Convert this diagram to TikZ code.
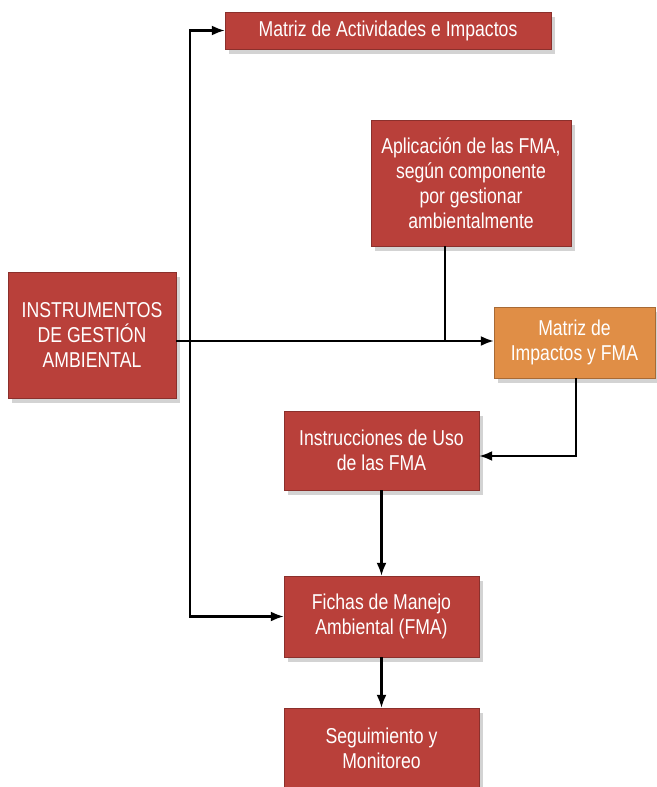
\documentclass[tikz,border=0pt]{standalone}
\usepackage{fontspec}
\setmainfont{Liberation Sans}[FakeStretch=0.82]
\usetikzlibrary{positioning,shadows,arrows.meta}
\definecolor{boxred}{RGB}{185,64,58}
\definecolor{boxorange}{RGB}{224,142,70}
\tikzset{
  block/.style={draw=boxred!75!black, fill=boxred, text=white, align=center,
    inner sep=0pt, font=\fontsize{21.5}{25}\selectfont,
    drop shadow={shadow xshift=4pt, shadow yshift=-5pt, opacity=0.35}},
  flow/.style={-{Latex[length=13pt,width=10pt]}, line width=2.2pt},
  link/.style={line width=2.2pt}
}
\begin{document}
\begin{tikzpicture}[x=1pt,y=-1pt]
		\useasboundingbox (0,0) rectangle (656,787);

		\node [block,minimum width=326pt,minimum height=37pt] (actividades) at (388,30.5) {Matriz de Actividades e Impactos};
		\node [block,minimum width=200pt,minimum height=126pt] (aplicacion) at (471,183) {Aplicación de las FMA,\\según componente\\por gestionar\\ambientalmente};
		\node [block,minimum width=168pt,minimum height=126pt] (instrumentos) at (92,335) {INSTRUMENTOS\\DE GESTIÓN\\AMBIENTAL};
		\node [block,fill=boxorange,draw=boxorange!75!black,minimum width=161pt,minimum height=71pt] (impactos) at (574.5,342.5) {Matriz de\\Impactos y FMA};
		\node [block,minimum width=195pt,minimum height=79pt] (instrucciones) at (381.5,450.5) {Instrucciones de Uso\\de las FMA};
		\node [block,minimum width=195pt,minimum height=81pt] (fichas) at (381.5,616.5) {Fichas de Manejo\\Ambiental (FMA)};
		\node [block,minimum width=195pt,minimum height=80pt] (seguimiento) at (381.5,748) {Seguimiento y\\Monitoreo};

		\coordinate (trunk) at (190,341);

		\draw [flow] (instrumentos.east |- trunk) -- (trunk) -- (trunk -| impactos.west);
		\draw [flow] (trunk) |- (actividades.west);
		\draw [flow] (trunk) |- (fichas.west);
		\draw [link] ([xshift=-26pt]aplicacion.south) -- ([xshift=-26pt]aplicacion.south |- trunk);
		\draw [flow] ([xshift=1.5pt]impactos.south) |- ([yshift=-5.5pt]instrucciones.east);
		\draw [flow] (instrucciones) -- (fichas);
		\draw [flow] (fichas) -- (seguimiento);
	\end{tikzpicture}
\end{document}
